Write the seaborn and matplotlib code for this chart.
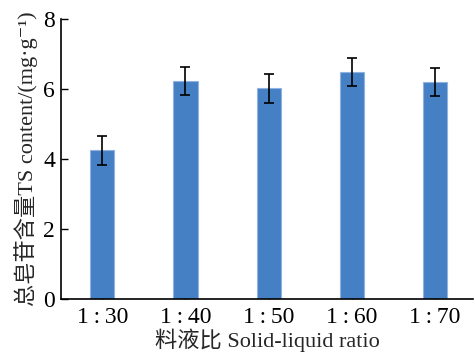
import matplotlib
matplotlib.use("Agg")
import matplotlib.pyplot as plt
import seaborn as sns
import pandas as pd

categories = ["1\u2009:\u200930", "1\u2009:\u200940", "1\u2009:\u200950", "1\u2009:\u200960", "1\u2009:\u200970"]
ts_content = [4.25, 6.23, 6.02, 6.49, 6.20]
errors = [0.42, 0.41, 0.42, 0.41, 0.40]
y_ticks = [0, 2, 4, 6, 8]

sns.set_theme(style="ticks")
plt.rcParams['font.family'] = ['Liberation Serif', 'DejaVu Serif', 'Noto Sans CJK SC']

df = pd.DataFrame({"ratio": categories, "ts": ts_content})

fig = plt.figure(figsize=(4.75, 3.61), dpi=100)
ax = fig.add_axes([0.128, 0.172, 0.868, 0.775])

sns.barplot(data=df, x="ratio", y="ts", color="#4680c4", width=0.29,
            saturation=1, edgecolor="#8fb3e0", linewidth=0.8, errorbar=None, ax=ax)
ax.errorbar(x=range(len(categories)), y=ts_content, yerr=errors, fmt="none",
            ecolor="black", elinewidth=1.2, capsize=3.5, capthick=1.2)

ax.set_ylim(0, 8)
ax.set_xlim(-0.5, 4.46)
ax.set_yticks(y_ticks)
ax.tick_params(axis="both", direction="in", length=5, width=1, labelsize=17, colors="black")
ax.tick_params(axis="y", pad=4)
ax.tick_params(axis="x", pad=6)
for s in ["top", "right"]:
    ax.spines[s].set_visible(False)
for s in ["left", "bottom"]:
    ax.spines[s].set_color("black")
    ax.spines[s].set_linewidth(1.2)

ax.set_xlabel("料液比 Solid-liquid ratio", fontsize=16, labelpad=0)
ax.set_ylabel("总皂苷含量TS content/(mg·g\u207b\u00b9)", fontsize=16, labelpad=4)

fig.savefig("out.png", dpi=100)
